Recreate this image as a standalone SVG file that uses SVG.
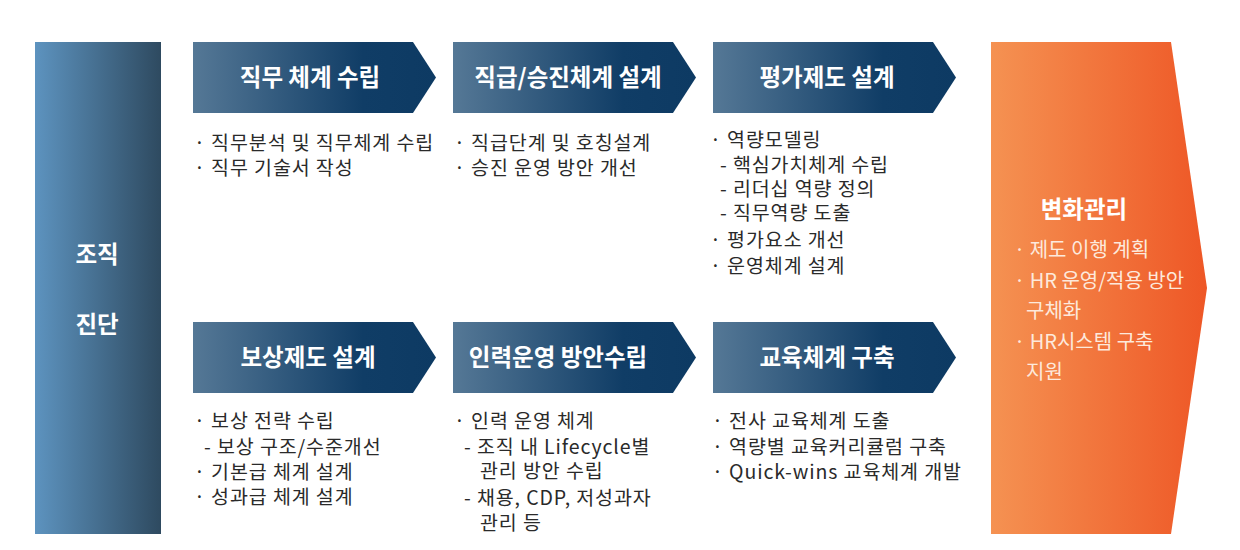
<svg xmlns="http://www.w3.org/2000/svg" width="1240" height="550" viewBox="0 0 1240 550">
<defs>
<linearGradient id="gLeft" x1="0" y1="0" x2="1" y2="0">
<stop offset="0" stop-color="#5d93bf"/>
<stop offset="1" stop-color="#2e4a60"/>
</linearGradient>
<linearGradient id="gChev" x1="0" y1="0" x2="1" y2="0">
<stop offset="0" stop-color="#557896"/>
<stop offset="0.7" stop-color="#103d66"/>
<stop offset="1" stop-color="#0d3a63"/>
</linearGradient>
<linearGradient id="gOrange" x1="0" y1="0" x2="1" y2="0">
<stop offset="0" stop-color="#f59252"/>
<stop offset="1" stop-color="#ee5726"/>
</linearGradient>
<style>
.hdr{font-family:"Noto Sans CJK KR","Noto Sans",sans-serif;font-weight:700;font-size:23.5px;fill:#ffffff;text-anchor:middle}
.body{font-family:"Noto Sans CJK KR","Noto Sans",sans-serif;font-size:19.5px;letter-spacing:0.9px;fill:#2a2a2a}
.side{font-family:"Noto Sans CJK KR","Noto Sans",sans-serif;font-weight:700;font-size:23.5px;fill:#ffffff;text-anchor:middle}
.orb{font-family:"Noto Sans CJK KR","Noto Sans",sans-serif;font-size:20px;fill:#fde9dc}
</style>
</defs>
<rect width="1240" height="550" fill="#ffffff"/>

<g id="diag">
<rect x="35" y="42" width="126" height="492" fill="url(#gLeft)"/>
<text class="side" x="97" y="263">조직</text>
<text class="side" x="97" y="333">진단</text>
</g>

<g id="job">
<polygon points="193,42 413,42 436,77.5 413,113 193,113" fill="url(#gChev)"/>
<text class="hdr" x="310" y="86">직무 체계 수립</text>
<text class="body"><tspan x="194" y="150">· 직무분석 및 직무체계 수립</tspan><tspan x="194" y="175">· 직무 기술서 작성</tspan></text>
</g>

<g id="grade">
<polygon points="453,42 673,42 696,77.5 673,113 453,113" fill="url(#gChev)"/>
<text class="hdr" x="568" y="86">직급/승진체계 설계</text>
<text class="body"><tspan x="454" y="150">· 직급단계 및 호칭설계</tspan><tspan x="454" y="175">· 승진 운영 방안 개선</tspan></text>
</g>

<g id="eval">
<polygon points="713,42 933,42 956,77.5 933,113 713,113" fill="url(#gChev)"/>
<text class="hdr" x="827" y="86">평가제도 설계</text>
<text class="body"><tspan x="710" y="147">· 역량모델링</tspan><tspan x="720" y="172">- 핵심가치체계 수립</tspan><tspan x="720" y="196">- 리더십 역량 정의</tspan><tspan x="720" y="220">- 직무역량 도출</tspan><tspan x="710" y="247">· 평가요소 개선</tspan><tspan x="710" y="273">· 운영체계 설계</tspan></text>
</g>

<g id="comp">
<polygon points="193,322 413,322 436,357.5 413,393 193,393" fill="url(#gChev)"/>
<text class="hdr" x="308" y="366">보상제도 설계</text>
<text class="body"><tspan x="194" y="428">· 보상 전략 수립</tspan><tspan x="204" y="454">- 보상 구조/수준개선</tspan><tspan x="194" y="479">· 기본급 체계 설계</tspan><tspan x="194" y="504">· 성과급 체계 설계</tspan></text>
</g>

<g id="staff">
<polygon points="453,322 673,322 696,357.5 673,393 453,393" fill="url(#gChev)"/>
<text class="hdr" x="558" y="366">인력운영 방안수립</text>
<text class="body"><tspan x="454" y="428">· 인력 운영 체계</tspan><tspan x="464" y="454">- 조직 내 Lifecycle별</tspan><tspan x="480" y="478">관리 방안 수립</tspan><tspan x="464" y="505">- 채용, CDP, 저성과자</tspan><tspan x="480" y="530">관리 등</tspan></text>
</g>

<g id="edu">
<polygon points="713,322 933,322 956,357.5 933,393 713,393" fill="url(#gChev)"/>
<text class="hdr" x="827" y="366">교육체계 구축</text>
<text class="body"><tspan x="712" y="428">· 전사 교육체계 도출</tspan><tspan x="712" y="454">· 역량별 교육커리큘럼 구축</tspan><tspan x="712" y="479">· Quick-wins 교육체계 개발</tspan></text>
</g>

<g id="change">
<polygon points="991,42 1171,42 1207,288 1171,534 991,534" fill="url(#gOrange)"/>
<text class="side" x="1084" y="218">변화관리</text>
<text class="orb"><tspan x="1014" y="257">· 제도 이행 계획</tspan><tspan x="1014" y="288">· HR 운영/적용 방안</tspan><tspan x="1026" y="318">구체화</tspan><tspan x="1014" y="349">· HR시스템 구축</tspan><tspan x="1026" y="379">지원</tspan></text>
</g>

<g id="connectors"></g>
</svg>
